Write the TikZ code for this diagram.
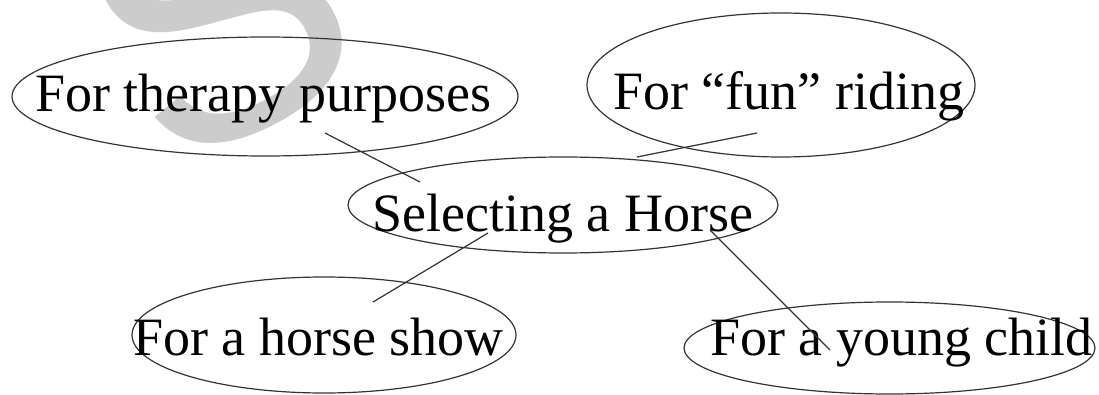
\documentclass[tikz,border=0pt]{standalone}
\usepackage{fontspec}
\setmainfont{Liberation Serif}
\newfontfamily\wmfont{Liberation Sans}
\usetikzlibrary{shapes.geometric}
\tikzset{
  oval/.style={draw=black!80, line width=1.2pt, ellipse, inner sep=0pt},
  lbl/.style={anchor=base west, inner sep=0pt, font=\fontsize{54}{60}\selectfont},
  link/.style={draw=black!80, line width=1.2pt},
  wm/.style={text=black!20, inner sep=0pt, anchor=base west, font=\wmfont\fontsize{360}{360}\selectfont}
}
\begin{document}
\begin{tikzpicture}[x=1pt,y=-1pt]
\useasboundingbox (0,0) rectangle (1099,395);
\clip (0,0) rectangle (1099,395);
\fill[white] (0,0) rectangle (1099,395);
% watermark
\node[wm, rotate=28] (wmark) at (168,178) {S};
% ellipses
\node[oval, minimum width=506pt, minimum height=119pt] (e1) at (265,96.5) {};
\node[oval, minimum width=388pt, minimum height=144pt] (e2) at (781,85) {};
\node[oval, minimum width=430pt, minimum height=96pt] (e3) at (563,205) {};
\node[oval, minimum width=384pt, minimum height=116pt] (e4) at (324,335) {};
\node[oval, minimum width=411pt, minimum height=92pt] (e5) at (889.5,348) {};
% texts
\node[lbl] (t1) at (35,112) {For therapy purposes};
\node[lbl] (t2) at (613,110) {For “fun” riding};
\node[lbl] (t3) at (372,232) {Selecting a Horse};
\node[lbl] (t4) at (133,355) {For a horse show};
\node[lbl] (t5) at (710,355) {For a young child};
% connector ends
\coordinate (a1) at (325,133);
\coordinate (b1) at (420,182);
\coordinate (a2) at (757,133);
\coordinate (b2) at (637,157);
\coordinate (a3) at (488,233);
\coordinate (b3) at (373,302);
\coordinate (a4) at (710,230);
\coordinate (b4) at (830,350);
\draw[link] (a1) -- (b1);
\draw[link] (a2) -- (b2);
\draw[link] (a3) -- (b3);
\draw[link] (a4) -- (b4);
\end{tikzpicture}
\end{document}
